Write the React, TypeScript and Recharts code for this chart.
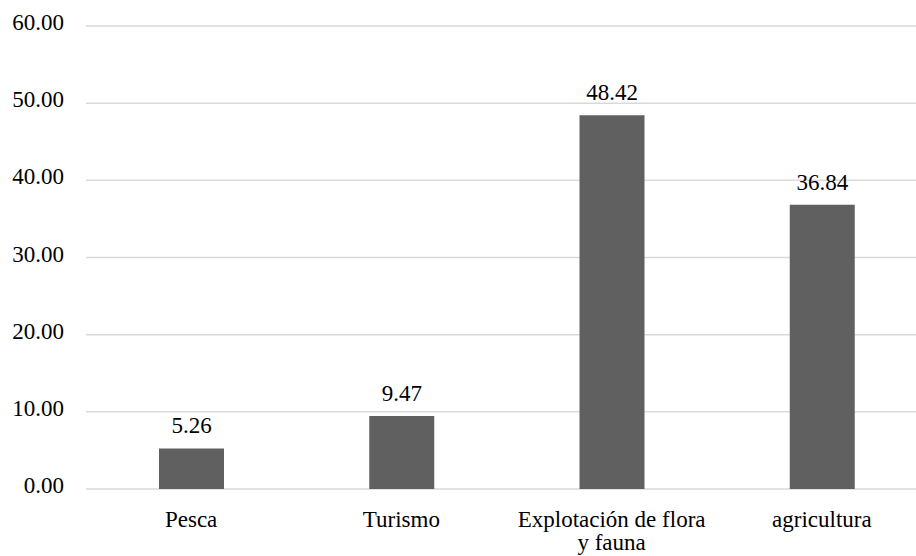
import React from 'react';
import { BarChart, Bar, XAxis, YAxis, CartesianGrid, LabelList } from 'recharts';

const categories = ['Pesca', 'Turismo', 'Explotación de flora y fauna', 'agricultura'];
const values = [5.26, 9.47, 48.42, 36.84];
const yTicks = [0, 10, 20, 30, 40, 50, 60];

const FONT = 'Liberation Serif, Times New Roman, serif';
const FONT_SIZE = 23;

const data = categories.map((name, i) => ({ name, value: values[i] }));

// greedy wrap, Excel-like
function wrapLabel(label: string, maxChars: number): string[] {
  const words = label.split(' ');
  const lines: string[] = [];
  let line = '';
  words.forEach(w => {
    const next = line ? `${line} ${w}` : w;
    if (next.length > maxChars && line) {
      lines.push(line);
      line = w;
    } else {
      line = next;
    }
  });
  if (line) lines.push(line);
  return lines;
}

const textStyle = { fill: '#000', fontFamily: FONT, fontSize: FONT_SIZE };

const CategoryTick = (props: any) => {
  const { x, y, payload } = props;
  const lines = wrapLabel(payload.value, 20);
  return (
    <text x={x} y={y} textAnchor="middle" style={textStyle}>
      {lines.map((l, i) => (
        <tspan key={i} x={x} dy={i === 0 ? 0 : 23}>{l}</tspan>
      ))}
    </text>
  );
};

const App: React.FC = () => {
  return (
    <div style={{ position: 'fixed', left: 0, top: 0, width: 916, height: 556, overflow: 'hidden', background: '#fff' }}>
      <BarChart
        width={930}
        height={556}
        data={data}
        margin={{ top: 26, right: 3, left: 0, bottom: 0 }}
        barSize={65}
      >
        <CartesianGrid vertical={false} stroke="#d9d9d9" strokeWidth={1.5} />
        <XAxis
          dataKey="name"
          axisLine={false}
          tickLine={false}
          height={67}
          tickSize={0}
          tickMargin={38}
          interval={0}
          tick={<CategoryTick />}
        />
        <YAxis
          domain={[0, 60]}
          ticks={yTicks}
          width={86}
          axisLine={false}
          tickLine={false}
          tickSize={0}
          tickMargin={22}
          tickFormatter={(v: number) => v.toFixed(2)}
          tick={{ fill: '#000', fontSize: FONT_SIZE, style: textStyle, dy: -4 }}
        />
        <Bar dataKey="value" fill="#606060" isAnimationActive={false}>
          <LabelList
            dataKey="value"
            position="top"
            offset={15}
            formatter={(v: any) => Number(v).toFixed(2)}
            fill="#000"
            fontSize={FONT_SIZE}
            style={textStyle}
          />
        </Bar>
      </BarChart>
    </div>
  );
};

export default App;
